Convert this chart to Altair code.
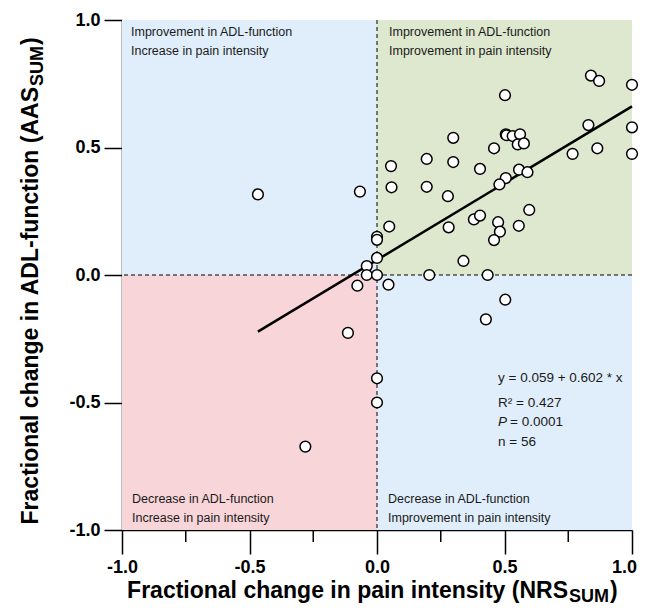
import altair as alt
import pandas as pd

# ---- data ----
x_vals = [0.839, 0.871, 1.0, 0.502, 0.829, 1.0, 0.299, 0.505, 0.508, 0.532,
          0.561, 0.552, 0.576, 0.459, 0.767, 0.864, 1.0, 0.195, 0.299, 0.055,
          0.404, 0.557, 0.59, 0.505, 0.48, 0.057, 0.195, 0.278, 0.597, 0.38,
          0.404, 0.475, 0.048, 0.281, 0.556, 0.482, 0.459, 0.339, 0.0, 0.0,
          0.0, -0.467, -0.067, -0.04, -0.04, 0.0, -0.077, -0.114, 0.0, 0.0,
          -0.281, 0.045, 0.205, 0.434, 0.503, 0.427]
y_vals = [0.782, 0.761, 0.746, 0.705, 0.588, 0.579, 0.538, 0.552, 0.548, 0.545,
          0.552, 0.512, 0.516, 0.497, 0.475, 0.497, 0.475, 0.455, 0.443, 0.427,
          0.416, 0.413, 0.403, 0.38, 0.355, 0.344, 0.346, 0.309, 0.255, 0.218,
          0.233, 0.207, 0.19, 0.187, 0.193, 0.17, 0.137, 0.055, 0.15, 0.138,
          0.067, 0.316, 0.327, 0.035, 0.0, 0.0, -0.042, -0.227, -0.405, -0.5,
          -0.673, -0.038, 0.0, 0.0, -0.097, -0.174]

fit_x = [-0.467, 1.0]
fit_y = [-0.222, 0.661]

quad_x1 = [-1, 0, -1, 0]
quad_x2 = [0, 1, 0, 1]
quad_y1 = [0, 0, -1, -1]
quad_y2 = [1, 1, 0, 0]
quad_colors = ["#E0EEFB", "#DEE8CE", "#F8D5D8", "#E0EEFB"]

major_ticks = [-1.0, -0.5, 0.0, 0.5, 1.0]
minor_ticks = [-0.75, -0.25, 0.25, 0.75]

quad_text = [
    ("Improvement in ADL-function", "Increase in pain intensity"),
    ("Improvement in ADL-function", "Improvement in pain intensity"),
    ("Decrease in ADL-function", "Increase in pain intensity"),
    ("Decrease in ADL-function", "Improvement in pain intensity"),
]
stat_lines = ["y = 0.059 + 0.602 * x", "R\u00b2 =  0.427", None, "n = 56"]
p_label = ["P", "=  0.0001"]

x_title = ["Fractional change in pain intensity (NRS", "SUM", ")"]
y_title = ["Fractional change in ADL-function (AAS", "SUM", ")"]

# ---- layout ----
W = H = 510
FONT = "Liberation Sans"
xs = alt.Scale(domain=[-1, 1], nice=False, zero=False)
ys = alt.Scale(domain=[-1, 1], nice=False, zero=False)
lab = "datum.value < 0 ? '-' + format(-datum.value, '.1f') : format(datum.value, '.1f')"
ax_common = dict(values=major_ticks, labelExpr=lab, title=None, grid=False,
                 labelFont=FONT, labelFontSize=18, labelFontWeight="bold",
                 labelColor="black", tickColor="black", tickWidth=1.5,
                 domainColor="black", domainWidth=1.5,
                 labelPadding=4, labelFlush=False, labelOverlap=False)
xaxis = alt.Axis(orient="bottom", tickSize=24,
                 labelOffset={"condition": {"test": "datum.value == 1", "value": -8},
                              "value": 0},
                 **ax_common)
yaxis = alt.Axis(orient="left", tickSize=18, **ax_common)


def X(f):
    return alt.X(f, type="quantitative", scale=xs, axis=xaxis)


def Y(f):
    return alt.Y(f, type="quantitative", scale=ys, axis=yaxis)


one = pd.DataFrame({"_": [0]})


def txt(s, x, y, size=12.5, weight="normal", style="normal", align="left",
        angle=0, color="#1a1a1a", baseline="middle"):
    return alt.Chart(one).mark_text(
        text=s, font=FONT, fontSize=size, fontWeight=weight, fontStyle=style,
        align=align, baseline=baseline, angle=angle, color=color
    ).encode(x=alt.value(x), y=alt.value(y))


quad_df = pd.DataFrame({"x1": quad_x1, "x2": quad_x2, "y1": quad_y1,
                        "y2": quad_y2, "c": quad_colors})
quads = alt.Chart(quad_df).mark_rect().encode(
    x=X("x1"), x2="x2", y=Y("y1"), y2="y2",
    color=alt.Color("c:N", scale=None))

zero = pd.DataFrame({"v": [0.0]})
vdash = alt.Chart(zero).mark_rule(color="black", strokeWidth=1,
                                  strokeDash=[4, 3]).encode(x=X("v"))
hdash = alt.Chart(zero).mark_rule(color="black", strokeWidth=1,
                                  strokeDash=[4, 3]).encode(y=Y("v"))

minor = alt.Chart(pd.DataFrame({"t": minor_ticks})).mark_rule(
    color="black", strokeWidth=1.5).encode(
    x=X("t"), y=alt.value(H), y2=alt.value(H + 12))

fit = alt.Chart(pd.DataFrame({"x": fit_x, "y": fit_y})).mark_line(
    color="black", strokeWidth=2.5).encode(x=X("x"), y=Y("y"))

pts = alt.Chart(pd.DataFrame({"x": x_vals, "y": y_vals})).mark_circle(
    color="white", stroke="black", strokeWidth=1.5, size=115, opacity=1
).encode(x=X("x"), y=Y("y"))

layers = [quads, vdash, hdash, minor, fit, pts]

# quadrant captions
qpos = [(9, 12), (267, 12), (10, 479), (266, 479)]
for (l1, l2), (qx, qy) in zip(quad_text, qpos):
    layers.append(txt(l1, qx, qy))
    layers.append(txt(l2, qx, qy + 19))

# statistics
sy = [358, 382.5, 402, 421.5]
for i, s in enumerate(stat_lines):
    if s is not None:
        layers.append(txt(s, 376, sy[i], size=13.5))
layers.append(txt(p_label[0], 376, sy[2], size=13.5, style="italic"))
layers.append(txt(p_label[1], 388, sy[2], size=13.5))

# x-axis title (with subscript)
xm_end = 446
layers.append(txt(x_title[0], xm_end, 578, size=23, weight="bold",
                  align="right", baseline="alphabetic", color="black"))
layers.append(txt(x_title[1], xm_end + 1, 581.5, size=18, weight="bold",
                  baseline="alphabetic", color="black"))
layers.append(txt(x_title[2], xm_end + 42, 578, size=23, weight="bold",
                  baseline="alphabetic", color="black"))

# y-axis title (rotated, with subscript)
ym_end = 67
layers.append(txt(y_title[0], -84, ym_end, size=23, weight="bold",
                  align="right", baseline="alphabetic", angle=270, color="black"))
layers.append(txt(y_title[1], -79, ym_end - 1, size=18, weight="bold",
                  baseline="alphabetic", angle=270, color="black"))
layers.append(txt(y_title[2], -84, ym_end - 42, size=23, weight="bold",
                  baseline="alphabetic", angle=270, color="black"))

chart = alt.layer(*layers).properties(
    width=W, height=H,
    padding={"left": 114, "top": 12, "right": 9, "bottom": 74},
    autosize=alt.AutoSizeParams(type="none"),
).configure_view(stroke=None)

chart.save("out.html", embed_options={"renderer": "svg", "actions": False})
